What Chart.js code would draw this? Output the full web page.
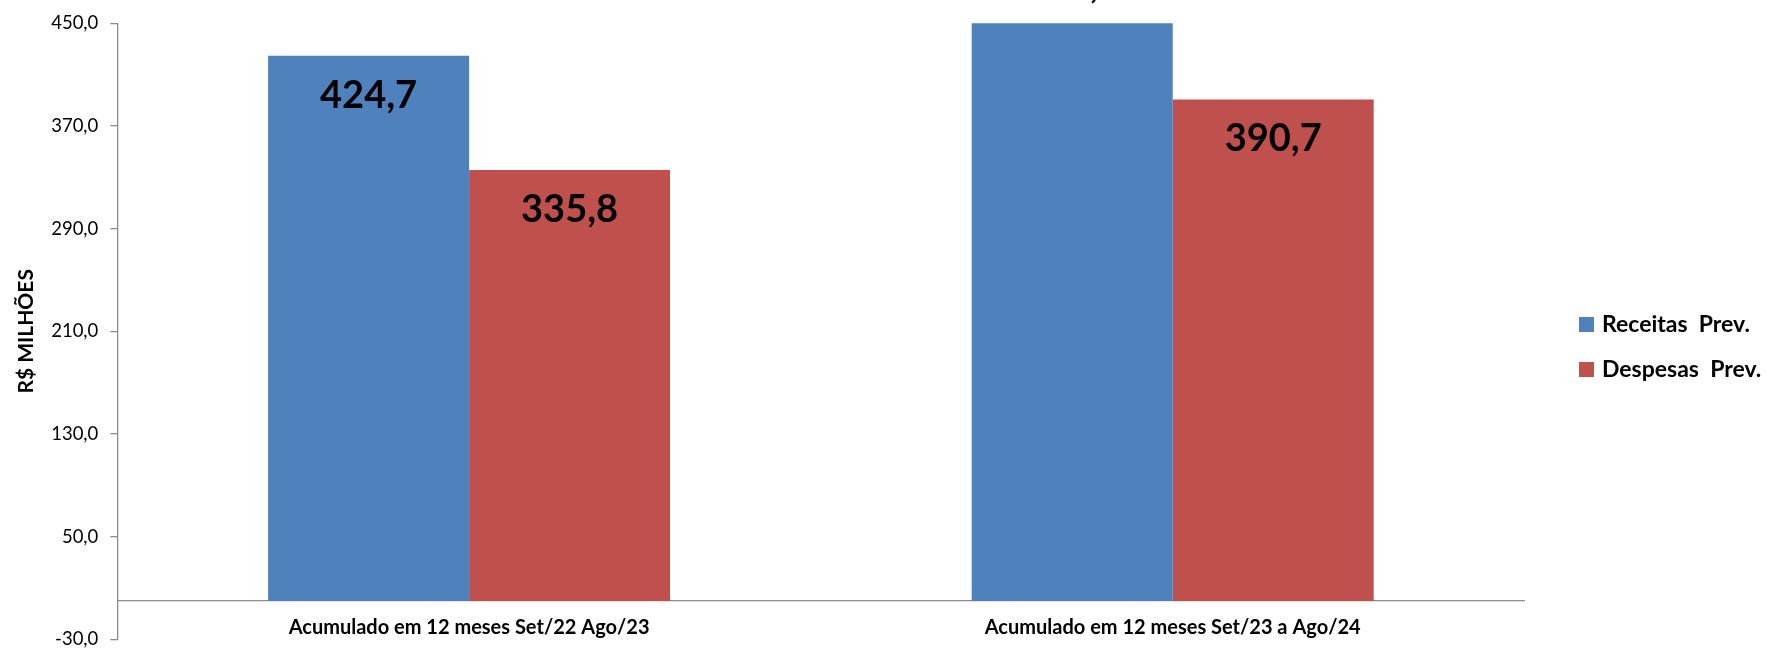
<!DOCTYPE html>
<html>
<head>
<meta charset="utf-8">
<script src="https://cdn.jsdelivr.net/npm/chart.js@4"></script>
<style>
  html, body { margin: 0; padding: 0; background: #fff; }
  #wrap { width: 1768px; height: 649px; position: relative; }
</style>
</head>
<body>
<div id="wrap"><canvas id="c" width="1768" height="649"></canvas></div>
<script>
const categories = ['Acumulado em 12 meses Set/22 Ago/23', 'Acumulado em 12 meses Set/23 a Ago/24'];
const seriesNames = ['Receitas  Prev.', 'Despesas  Prev.'];
const receitas = [424.7, 510.2];
const despesas = [335.8, 390.7];
const seriesColors = ['#4F81BD', '#C0504D'];
const yMin = -30, yMax = 450, yStep = 80;
const yTitle = 'R$ MILHÕES';

const fmt = v => v.toFixed(1).replace('.', ',');

const dataLabels = {
  id: 'dataLabels',
  afterDatasetsDraw(chart) {
    const ctx = chart.ctx;
    ctx.save();
    ctx.font = 'bold 38px Lato';
    ctx.fillStyle = '#000';
    ctx.textAlign = 'center';
    ctx.textBaseline = 'alphabetic';
    chart.data.datasets.forEach((ds, di) => {
      const meta = chart.getDatasetMeta(di);
      meta.data.forEach((bar, i) => {
        const v = ds.data[i];
        const yTop = chart.scales.y.getPixelForValue(v);
        ctx.fillText(fmt(v), bar.x, yTop + 52);
      });
    });
    ctx.restore();
  }
};

const sideLegend = {
  id: 'sideLegend',
  afterDraw(chart) {
    const ctx = chart.ctx;
    ctx.save();
    ctx.font = 'bold 23px Lato';
    ctx.textAlign = 'left';
    ctx.textBaseline = 'alphabetic';
    chart.data.datasets.forEach((ds, i) => {
      const top = 317 + i * 45;
      ctx.fillStyle = ds.backgroundColor;
      ctx.fillRect(1579, top, 15, 15);
      ctx.fillStyle = '#000';
      ctx.fillText(ds.label, 1602, top + 15);
    });
    ctx.restore();
  }
};

new Chart(document.getElementById('c'), {
  type: 'bar',
  data: {
    labels: categories,
    datasets: [
      { label: seriesNames[0], data: receitas, backgroundColor: seriesColors[0], borderWidth: 0 },
      { label: seriesNames[1], data: despesas, backgroundColor: seriesColors[1], borderWidth: 0 }
    ]
  },
  options: {
    responsive: false,
    animation: false,
    devicePixelRatio: 1,
    categoryPercentage: 0.5713,
    barPercentage: 1.0,
    layout: { padding: { top: 23.3, bottom: 9.6, left: 0, right: 243.5 } },
    plugins: {
      legend: { display: false },
      tooltip: { enabled: false }
    },
    scales: {
      x: {
        position: { y: 0 },
        afterFit: s => { s.paddingTop = 0; s.paddingBottom = 0; s.paddingLeft = 0; s.paddingRight = 0; },
        grid: { display: true, drawOnChartArea: false, drawTicks: false, color: 'rgba(0,0,0,0)' },
        border: { display: true, color: '#8c8c8c', width: 1.3 },
        ticks: { color: '#000', font: { family: 'Lato', weight: 'bold', size: 20 }, padding: 15, maxRotation: 0 }
      },
      y: {
        min: yMin, max: yMax,
        afterFit: s => { s.width = 117.3; s.paddingTop = 0; s.paddingBottom = 0; },
        ticks: {
          stepSize: yStep,
          color: '#000',
          font: { family: 'Lato', size: 18.5 },
          padding: 12,
          callback: v => fmt(v)
        },
        grid: { drawOnChartArea: false, drawTicks: true, tickLength: 7, color: '#8c8c8c', lineWidth: 1.3 },
        border: { display: true, color: '#8c8c8c', width: 1.3 },
        title: {
          display: true, text: yTitle, color: '#000',
          font: { family: 'Lato', weight: 'bold', size: 21 },
          padding: { top: 14, bottom: 0 }
        }
      }
    }
  },
  plugins: [dataLabels, sideLegend]
});
</script>
</body>
</html>
